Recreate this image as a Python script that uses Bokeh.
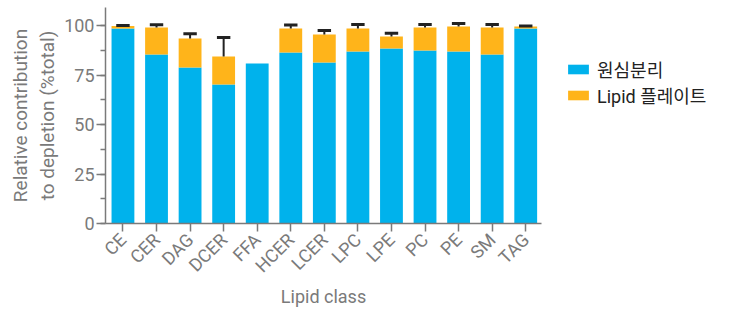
from bokeh.plotting import figure
from bokeh.models import Range1d, FixedTicker, SingleIntervalTicker, Legend, LegendItem, ColumnDataSource
from bokeh.embed import file_html
from bokeh.resources import INLINE
import math

categories = ["CE", "CER", "DAG", "DCER", "FFA", "HCER", "LCER", "LPC", "LPE", "PC", "PE", "SM", "TAG"]
centrifuge = [98.5, 85.4, 78.8, 70.2, 80.8, 86.4, 81.3, 86.9, 88.4, 87.4, 86.9, 85.4, 98.5]
plate = [1.2, 13.6, 14.6, 14.1, 0.0, 12.1, 14.2, 11.6, 6.0, 11.6, 12.6, 13.6, 1.0]
error = [0.3, 1.4, 2.4, 9.6, 0.0, 1.7, 2.0, 2.0, 1.7, 1.5, 1.5, 1.5, 0.2]
y_ticks = [0, 25, 50, 75, 100]

BLUE = "#00B2EC"
ORANGE = "#FFB41A"
GREY = "#7a7a7a"
FONT = "Roboto, 'Noto Sans CJK KR'"

xs = list(range(len(categories)))
totals = [c + o for c, o in zip(centrifuge, plate)]
src = ColumnDataSource(dict(x=xs, blue=centrifuge, orange=plate, total=totals))

p = figure(frame_width=436, frame_height=216, output_backend="svg", toolbar_location=None,
           x_range=Range1d(-0.52, 12.47), y_range=Range1d(0, 109.1),
           min_border_left=105, min_border_right=0, min_border_top=7, min_border_bottom=0)
p.outline_line_color = None
p.xgrid.visible = False
p.ygrid.visible = False

r1 = p.vbar(x="x", bottom=0, top="blue", width=0.68, fill_color=BLUE, line_color=None, source=src)
r2 = p.vbar(x="x", bottom="blue", top="total", width=0.68, fill_color=ORANGE, line_color=None, source=src)

ex = [x for x, e in zip(xs, error) if e > 0]
err_src = ColumnDataSource(dict(
    x=ex,
    xl=[x - 0.2 for x in ex],
    xr=[x + 0.2 for x in ex],
    top=[t for t, e in zip(totals, error) if e > 0],
    cap=[t + e for t, e in zip(totals, error) if e > 0],
))
p.segment(x0="x", y0="top", x1="x", y1="cap", line_color="#222222", line_width=2, source=err_src)
p.segment(x0="xl", y0="cap", x1="xr", y1="cap", line_color="#222222", line_width=3, source=err_src)

# axes
p.xaxis.ticker = FixedTicker(ticks=xs)
p.xaxis.major_label_overrides = {i: c for i, c in enumerate(categories)}
p.xaxis.major_label_orientation = math.pi / 4
p.xaxis.axis_label = "Lipid class"
p.yaxis.ticker = SingleIntervalTicker(interval=25, num_minor_ticks=2)
p.yaxis.axis_label = "Relative contribution\nto depletion (%total)"

for ax in (p.xaxis[0], p.yaxis[0]):
    ax.axis_line_color = GREY
    ax.axis_line_width = 1.5
    ax.major_tick_line_color = GREY
    ax.major_tick_line_width = 1.5
    ax.minor_tick_line_color = GREY
    ax.minor_tick_line_width = 1.5
    ax.major_tick_in = 0
    ax.minor_tick_in = 0
    ax.major_label_text_color = GREY
    ax.major_label_text_font = FONT
    ax.major_label_text_font_size = "18px"
    ax.axis_label_text_color = GREY
    ax.axis_label_text_font = FONT
    ax.axis_label_text_font_size = "18px"
    ax.axis_label_text_font_style = "normal"

p.yaxis.axis_label_text_font_size = "19px"
p.yaxis.major_tick_out = 9
p.yaxis.minor_tick_out = 5
p.xaxis.major_tick_out = 8
p.xaxis.minor_tick_line_color = None
p.yaxis.major_label_standoff = 2
p.yaxis.axis_label_standoff = 2
p.xaxis.major_label_standoff = 5
p.xaxis.axis_label_standoff = -1

legend = Legend(items=[LegendItem(label="원심분리", renderers=[r1]),
                       LegendItem(label="Lipid 플레이트", renderers=[r2])],
                location=(24, 115))
legend.border_line_color = None
legend.background_fill_alpha = 0
legend.glyph_width = 26
legend.glyph_height = 12
legend.label_text_font = FONT
legend.label_text_font_size = "18px"
legend.label_text_color = "#222222"
legend.label_standoff = 6
legend.spacing = -6
legend.padding = 0
legend.margin = 0
p.add_layout(legend, "right")

open("out.html", "w").write(file_html(p, INLINE))
